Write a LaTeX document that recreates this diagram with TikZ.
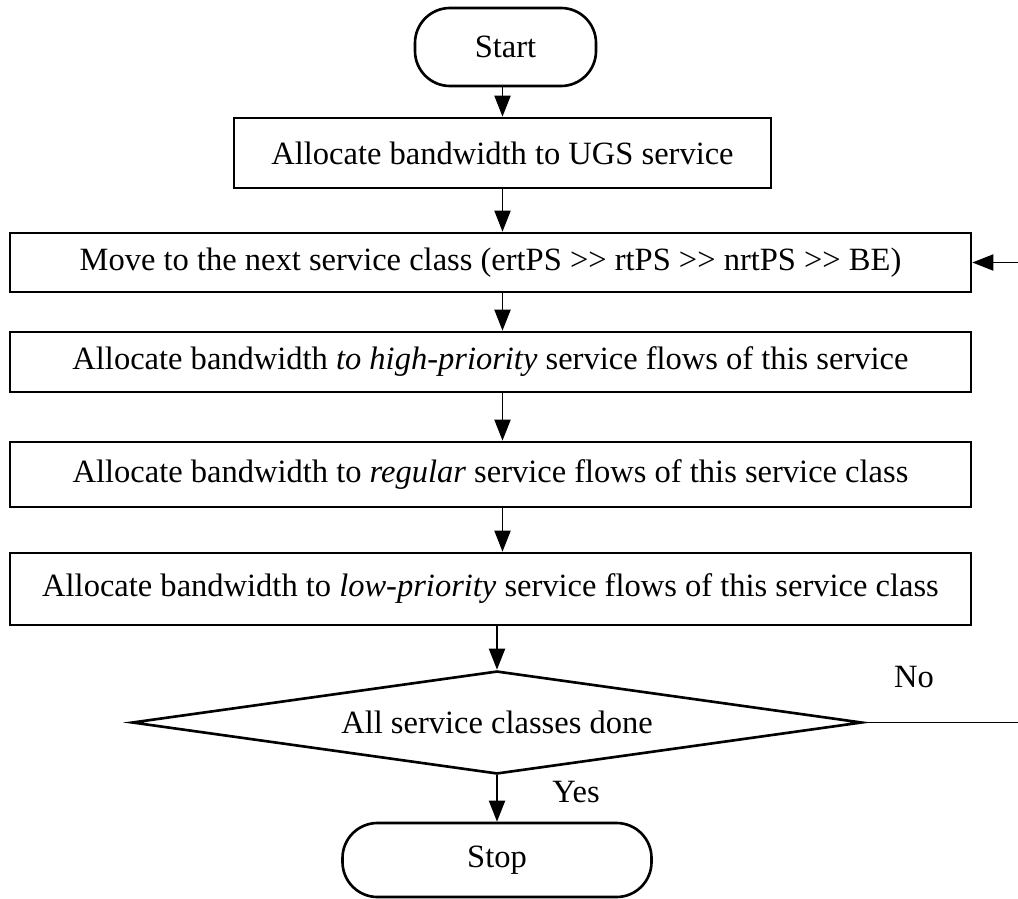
\documentclass[tikz,border=0pt]{standalone}
\usepackage{fontspec}
\setmainfont{Liberation Serif}
\usetikzlibrary{arrows.meta,shapes.geometric}

\tikzset{
    procbox/.style={draw, line width=1.5pt, minimum height=1.2cm, inner sep=0pt},
    termbox/.style={draw, line width=1.5pt, rounded corners=0.7cm, inner sep=0pt},
    decbox/.style={draw, diamond, shape aspect=7.1, line width=1.5pt, inner sep=0pt, minimum width=14.6cm, minimum height=2.06cm},
    arr/.style={line width=1.1pt, -{Triangle[length=0.42cm,width=0.32cm]}},
}

\begin{document}
\begin{tikzpicture}[font=\fontsize{18.5}{22}\selectfont]
                \useasboundingbox (0,0) rectangle (20.36,-17.96);
                \coordinate (spine) at (10.05,0);
                \coordinate (back) at (20.55,0);

                \node[termbox, minimum width=3.62cm, minimum height=1.56cm] (start) at (10.11,-0.94) {Start};
                \node[procbox, minimum width=10.74cm, minimum height=1.40cm] (ugs) at (10.05,-3.06) {Allocate bandwidth to UGS service};
                \node[procbox, minimum width=19.22cm, minimum height=1.18cm] (move) at (9.81,-5.25) {Move to the next service class (ertPS >{}> rtPS >{}> nrtPS >{}> BE)};
                \node[procbox, minimum width=19.22cm, minimum height=1.20cm] (high) at (9.81,-7.24) {Allocate bandwidth \textit{to high-priority} service flows of this service};
                \node[procbox, minimum width=19.22cm, minimum height=1.30cm] (reg) at (9.81,-9.49) {Allocate bandwidth to \textit{regular} service flows of this service class};
                \node[procbox, minimum width=19.22cm, minimum height=1.44cm] (low) at (9.81,-11.78) {Allocate bandwidth to \textit{low-priority} service flows of this service class};
                \node[decbox] (done) at (9.94,-14.45) {All service classes done};
                \node[termbox, minimum width=6.18cm, minimum height=1.48cm] (stop) at (9.94,-17.20) {Stop};

                \node[] (no) at (18.28,-13.54) {No};
                \node[] (yes) at (11.52,-15.84) {Yes};

                \draw[arr] (start.south -| spine) -- (ugs.north -| spine);
                \draw[arr] (ugs.south -| spine) -- (move.north -| spine);
                \draw[arr] (move.south -| spine) -- (high.north -| spine);
                \draw[arr] (high.south -| spine) -- (reg.north -| spine);
                \draw[arr] (reg.south -| spine) -- (low.north -| spine);
                \draw[arr] (low.south -| done.north) -- (done.north);
                \draw[arr] (done.south) -- (stop.north);
                \draw[arr] (done.east) -- (done.east -| back) |- (move.east);
            \end{tikzpicture}
\end{document}
